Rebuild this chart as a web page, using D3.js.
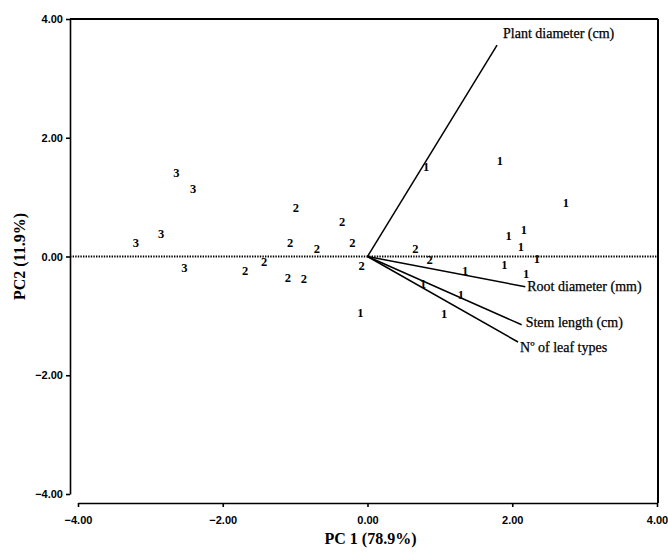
<!DOCTYPE html>
<html>
<head>
<meta charset="utf-8">
<script src="https://cdn.jsdelivr.net/npm/d3@7"></script>
<style>
  body { margin: 0; background: #fff; }
  .tick text { font-family: "Liberation Sans", Arial, sans-serif; font-weight: bold; font-size: 11px; fill: #000; }
</style>
</head>
<body>
<div id="chart"></div>
<script>
// tick values shared by both axes
const tickValues = [-4, -2, 0, 2, 4];

// loading vectors
const vecNames = ["Plant diameter (cm)", "Root diameter (mm)", "Stem length (cm)", "N\u00ba of leaf types"];
const vecPC1 = [1.79, 2.18, 2.13, 2.08];
const vecPC2 = [3.56, -0.51, -1.15, -1.44];

// sample scores, labelled by group
const groups = ["3", "3", "3", "3", "3",
  "2", "2", "2", "2", "2", "2", "2", "2", "2", "2", "2", "2",
  "1", "1", "1", "1", "1", "1", "1", "1", "1", "1", "1", "1", "1", "1"];
const scorePC1 = [-2.64, -2.41, -3.20, -2.85, -2.53,
  -0.99, -0.35, -0.21, -1.07, -0.70, -1.43, -1.69, -1.10, -0.88, -0.08, 0.66, 0.86,
  0.81, 1.83, 2.74, 2.16, 1.95, 2.12, 2.34, 1.89, 1.35, 2.19, 0.77, 1.29, -0.10, 1.06];
const scorePC2 = [1.41, 1.15, 0.24, 0.38, -0.18,
  0.82, 0.58, 0.24, 0.23, 0.14, -0.09, -0.24, -0.36, -0.38, -0.15, 0.14, -0.06,
  1.51, 1.61, 0.90, 0.46, 0.35, 0.16, -0.04, -0.14, -0.23, -0.28, -0.45, -0.65, -0.95, -0.97];

const W = 668, H = 553;
const svg = d3.select("#chart").append("svg")
    .attr("width", W)
    .attr("height", H);

// plot frame
const yAxisX = 70, xAxisY = 503;
const x = d3.scaleLinear().domain([-4, 4]).range([78, 657]);
const y = d3.scaleLinear().domain([-4, 4]).range([494, 19]);
const fmt = d3.format(".2f");
const serif = "'Liberation Serif', 'Times New Roman', serif";

// axes
const gx = svg.append("g")
    .attr("transform", `translate(0, ${xAxisY})`)
    .call(d3.axisBottom(x).tickValues(tickValues).tickFormat(fmt).tickSize(4).tickSizeOuter(0));
gx.selectAll("text").attr("dy", "1.25em");

const gy = svg.append("g")
    .attr("transform", `translate(${yAxisX}, 0)`)
    .call(d3.axisLeft(y).tickValues(tickValues).tickFormat(fmt).tickSize(4).tickSizeOuter(0));

svg.selectAll(".domain, .tick line").attr("stroke", "#000").attr("stroke-width", 1.6);

// top and right edges of the box
svg.append("line")
    .attr("x1", yAxisX).attr("x2", x(4) + 1)
    .attr("y1", y(4)).attr("y2", y(4))
    .attr("stroke", "#000").attr("stroke-width", 2);
svg.append("line")
    .attr("x1", x(4) + 1).attr("x2", x(4) + 1)
    .attr("y1", y(4)).attr("y2", xAxisY)
    .attr("stroke", "#000").attr("stroke-width", 2);

// dotted zero line
svg.append("line")
    .attr("x1", yAxisX).attr("x2", x(4) + 1)
    .attr("y1", y(0)).attr("y2", y(0))
    .attr("stroke", "#000")
    .attr("stroke-width", 2.2)
    .attr("stroke-dasharray", "1.4,1.2");

// axis labels
svg.append("text")
    .attr("x", x(0) + 3)
    .attr("y", 544)
    .attr("text-anchor", "middle")
    .style("font-family", serif)
    .style("font-weight", "bold")
    .style("font-size", "16px")
    .text("PC 1 (78.9%)");

svg.append("text")
    .attr("transform", `translate(25, ${y(0)}) rotate(-90)`)
    .attr("text-anchor", "middle")
    .style("font-family", serif)
    .style("font-weight", "bold")
    .style("font-size", "16px")
    .text("PC2 (11.9%)");

// loading vectors
const vecs = vecNames.map((n, i) => ({name: n, x: vecPC1[i], y: vecPC2[i]}));
svg.append("g")
  .selectAll("line")
  .data(vecs)
  .join("line")
    .attr("x1", x(0)).attr("y1", y(0))
    .attr("x2", d => x(d.x)).attr("y2", d => y(d.y))
    .attr("stroke", "#000")
    .attr("stroke-width", 1.5);

// label offsets from the arrow tips
const labelDx = [6, 2, 4, 2], labelDy = [-7, 4, 2, 10];
svg.append("g")
  .selectAll("text")
  .data(vecs)
  .join("text")
    .attr("x", (d, i) => x(d.x) + labelDx[i])
    .attr("y", (d, i) => y(d.y) + labelDy[i])
    .style("font-family", serif)
    .style("font-size", "14px")
    .style("stroke", "#000")
    .style("stroke-width", 0.25)
    .text(d => d.name);

// sample scores
const pts = groups.map((g, i) => ({g: g, x: scorePC1[i], y: scorePC2[i]}));
svg.append("g")
  .selectAll("text")
  .data(pts)
  .join("text")
    .attr("x", d => x(d.x))
    .attr("y", d => y(d.y))
    .attr("dy", "0.35em")
    .attr("text-anchor", "middle")
    .style("font-family", serif)
    .style("font-weight", "bold")
    .style("font-size", "12.5px")
    .text(d => d.g);
</script>
</body>
</html>
